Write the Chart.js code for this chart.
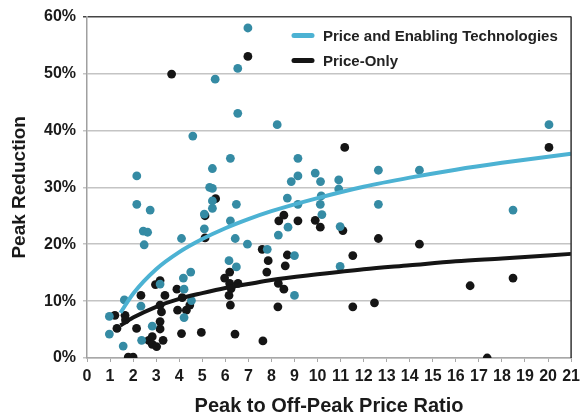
<!DOCTYPE html>
<html><head><meta charset="utf-8">
<script src="https://cdn.jsdelivr.net/npm/chart.js@4/dist/chart.umd.min.js"></script>
<style>html,body{margin:0;padding:0;background:#fff}#wrap{width:585px;height:418px}</style>
</head><body><div id="wrap"><canvas id="c" width="585" height="418"></canvas></div>
<script>
// Price and Enabling Technologies (observations)
const enablingX = [0.97,0.97,1.57,1.62,2.16,2.16,2.34,2.37,2.44,2.63,2.48,2.74,2.83,3.17,4.1,4.18,4.21,4.21,4.5,4.53,4.59,5.09,5.09,5.32,5.44,5.44,5.44,5.44,5.56,6.22,6.22,6.16,6.48,6.48,6.43,6.54,6.54,6.96,6.98,7.82,8.25,8.3,8.69,8.72,8.86,9.15,9.15,9.15,9.0,9.0,9.9,10.13,10.16,10.12,10.19,10.92,10.92,10.98,10.98,12.64,12.64,14.42,18.48,20.04];
const enablingY = [7.3,4.2,2.1,10.2,32.0,27.0,9.1,3.1,22.3,22.1,19.9,26.0,5.6,13.0,21.0,14.05,12.1,7.1,15.1,10.1,39.0,25.3,22.7,30.0,29.8,27.6,26.3,33.3,49.0,35.1,24.1,17.1,16.0,27.0,21.0,50.9,43.0,20.0,58.0,19.1,41.0,21.6,28.1,23.0,31.0,35.1,32.0,27.0,18.0,11.0,32.5,31.0,28.5,27.0,25.2,31.3,29.7,23.1,16.1,33.0,27.0,33.0,26.0,41.0];
// Price-Only (observations)
const priceOnlyX = [1.21,1.3,1.65,1.67,1.79,2.0,2.15,2.34,2.68,2.83,2.83,2.97,3.02,3.17,3.17,3.23,3.17,3.17,3.3,3.38,3.67,3.9,3.93,4.1,4.13,4.31,4.46,4.96,5.12,5.12,5.58,5.97,6.19,6.19,6.25,6.55,6.16,6.22,6.42,6.98,7.6,7.63,7.8,7.86,8.3,8.28,8.32,8.54,8.54,8.6,8.69,9.15,9.9,10.12,11.1,11.18,11.53,11.53,12.47,12.64,14.42,16.62,17.36,18.48,20.04];
const priceOnlyY = [7.5,5.2,7.5,6.7,0.15,0.15,5.2,11.0,3.1,3.75,2.4,12.9,2.0,13.6,9.3,8.1,6.4,5.1,3.1,11.0,49.9,12.1,8.4,4.3,10.6,8.4,9.3,4.5,25.0,21.1,28.0,14.05,15.1,13.1,12.2,13.1,11.0,9.3,4.2,53.0,19.1,3.0,15.1,17.1,13.1,9.0,24.1,25.1,12.1,16.2,18.1,24.1,24.2,23.0,22.4,37.0,18.0,9.0,9.7,21.0,20.0,12.7,0,14.05,37.0];
// Trend curves
const trendX = [1.45,2,3,4,5,6,7,8,10,12,14,16,18,21];
const enablingTrendY = [7.95,11.3,15.6,18.6,20.9,22.8,24.4,25.8,28.1,30.1,31.7,33.1,34.3,35.9];
const priceOnlyTrendY = [5.7,7.1,9.0,10.4,11.4,12.3,13.0,13.7,14.7,15.6,16.3,17.0,17.5,18.3];
const xTicks = [0,1,2,3,4,5,6,7,8,9,10,11,12,13,14,15,16,17,18,19,20,21];
const yTicks = [0,10,20,30,40,50,60];
const seriesNames = ['Price and Enabling Technologies','Price-Only'];

const pts = (xs, ys) => xs.map((x, i) => ({x, y: ys[i]}));
const TEAL_PT = '#358ba4', TEAL_LN = '#4cb2d3', BLK = '#151515';
const FONT = '"Liberation Sans", Arial, sans-serif';

const legendPlugin = {
  id: 'customLegend',
  afterDraw(chart) {
    const c = chart.ctx, a = chart.chartArea;
    const items = [[seriesNames[0], TEAL_LN], [seriesNames[1], BLK]];
    c.save();
    c.font = 'bold 15px ' + FONT;
    c.textBaseline = 'middle';
    items.forEach((it, i) => {
      const y = a.top + 19 + i * 25;
      const x0 = a.left + 207;
      c.strokeStyle = it[1]; c.lineWidth = 5; c.lineCap = 'round';
      c.beginPath(); c.moveTo(x0, y); c.lineTo(x0 + 18, y); c.stroke();
      c.fillStyle = '#222';
      c.fillText(it[0], x0 + 29, y + 1);
    });
    // right frame
    c.strokeStyle = '#333'; c.lineWidth = 1.5; c.lineCap = 'butt';
    c.beginPath(); c.moveTo(a.right, a.top); c.lineTo(a.right, a.bottom); c.stroke();
    c.restore();
  }
};

new Chart(document.getElementById('c'), {
  data: {
    datasets: [
      {type: 'line', label: seriesNames[0], data: pts(trendX, enablingTrendY), borderColor: TEAL_LN, borderWidth: 4, pointRadius: 0, cubicInterpolationMode: 'monotone', fill: false, order: 0},
      {type: 'line', label: seriesNames[1], data: pts(trendX, priceOnlyTrendY), borderColor: BLK, borderWidth: 4, pointRadius: 0, cubicInterpolationMode: 'monotone', fill: false, order: 0},
      {type: 'scatter', label: seriesNames[1] + ' data', data: pts(priceOnlyX, priceOnlyY), backgroundColor: BLK, borderWidth: 0, pointRadius: 4.4, order: 2},
      {type: 'scatter', label: seriesNames[0] + ' data', data: pts(enablingX, enablingY), backgroundColor: TEAL_PT, borderWidth: 0, pointRadius: 4.4, order: 1}
    ]
  },
  options: {
    responsive: false, animation: false,
    layout: {padding: {left: 0, right: 13, top: 14, bottom: 0}},
    plugins: {legend: {display: false}, tooltip: {enabled: false}},
    scales: {
      x: {
        type: 'linear', min: 0, max: 21,
        afterBuildTicks: s => { s.ticks = xTicks.map(v => ({value: v})); },
        afterFit: s => { s.height = 60; },
        border: {display: true, color: '#a8a8a8', width: 1.5},
        grid: {drawOnChartArea: false, drawTicks: true, tickLength: 4, color: '#a8a8a8', lineWidth: 1},
        ticks: {color: '#1a1a1a', font: {family: FONT, size: 16, weight: 'bold'}, padding: 5, maxRotation: 0, autoSkip: false},
        title: {display: true, text: 'Peak to Off-Peak Price Ratio', color: '#1a1a1a', font: {family: FONT, size: 20, weight: 'bold'}, padding: {top: 1, bottom: 0}}
      },
      y: {
        type: 'linear', min: 0, max: 60,
        afterBuildTicks: s => { s.ticks = yTicks.map(v => ({value: v})); },
        afterFit: s => { s.width = 87; },
        border: {display: true, color: '#a0a0a0', width: 1.5},
        grid: {color: c => c.tick && c.tick.value === 60 ? '#444' : '#c4c4c4', lineWidth: 1.5, tickLength: 4, drawTicks: true},
        ticks: {color: '#1a1a1a', font: {family: FONT, size: 16, weight: 'bold'}, padding: 7, callback: v => v + '%'},
        title: {display: true, text: 'Peak Reduction', color: '#1a1a1a', font: {family: FONT, size: 19, weight: 'bold'}, padding: {top: 8, bottom: 0}}
      }
    }
  },
  plugins: [legendPlugin]
});
</script>
</body></html>
